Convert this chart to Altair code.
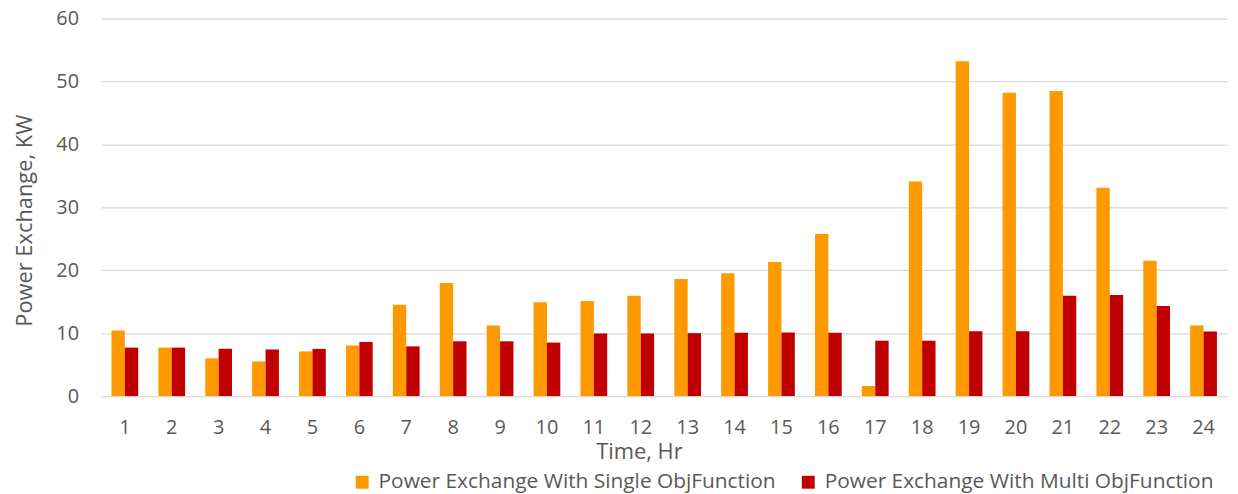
import altair as alt
import pandas as pd

hours = list(range(1, 25))
single = [10.4, 7.7, 6.0, 5.5, 7.1, 8.05, 14.5, 17.95, 11.2, 14.9, 15.1, 15.95,
          18.6, 19.5, 21.3, 25.75, 1.6, 34.1, 53.2, 48.2, 48.5, 33.1, 21.5, 11.2]
multi = [7.7, 7.7, 7.5, 7.4, 7.5, 8.6, 7.9, 8.7, 8.7, 8.5, 9.95, 9.95,
         10.0, 10.05, 10.1, 10.05, 8.8, 8.8, 10.3, 10.3, 15.95, 16.05, 14.3, 10.25]
series = ["Power Exchange With Single ObjFunction", "Power Exchange  With Multi ObjFunction"]
colors = ["#FF9900", "#C00000"]
y_ticks = [0, 10, 20, 30, 40, 50, 60]

rows = []
for h, s, m in zip(hours, single, multi):
    rows.append({"Hour": h, "Series": series[0], "Value": s})
    rows.append({"Hour": h, "Series": series[1], "Value": m})
df = pd.DataFrame(rows)

FONT = "Open Sans"
TXT = "#595959"

chart = alt.Chart(df).mark_bar().encode(
    x=alt.X("Hour:O", sort=hours,
            scale=alt.Scale(paddingInner=0.43, paddingOuter=0.215),
            axis=alt.Axis(title="Time, Hr", labelAngle=0, ticks=False, tickSize=0,
                          domain=False, grid=False, labelPadding=22,
                          labelFontSize=20, labelFont=FONT, labelColor=TXT,
                          titleFontSize=22, titleFont=FONT, titleColor=TXT,
                          titleFontWeight="normal", titleX=541, titleY=63,
                          titleBaseline="alphabetic", titleAlign="center")),
    xOffset=alt.XOffset("Series:N", sort=series, scale=alt.Scale(domain=series)),
    y=alt.Y("Value:Q", scale=alt.Scale(domain=[0, 60], nice=False),
            axis=alt.Axis(title="Power Exchange, KW", values=y_ticks, ticks=False, tickSize=0,
                          domain=False, grid=True, gridColor="#d9d9d9", gridWidth=1.3,
                          labelPadding=23, labelFontSize=20, labelFont=FONT, labelColor=TXT,
                          titleFontSize=22, titleFont=FONT, titleColor=TXT,
                          titleFontWeight="normal", titleAngle=-90, titleX=-70, titleY=203,
                          titleBaseline="alphabetic", titleAlign="center")),
    color=alt.Color("Series:N", sort=series,
                    scale=alt.Scale(domain=series, range=colors),
                    legend=alt.Legend(title=None, orient="none", legendX=252, legendY=456,
                                      direction="horizontal", symbolType="square",
                                      symbolSize=169, symbolStrokeWidth=0,
                                      labelFontSize=21, labelFont=FONT, labelColor=TXT,
                                      labelOffset=6, columnPadding=22, labelLimit=600)),
).properties(
    width=1133, height=380,
    padding={"left": 94, "top": 9, "right": 3, "bottom": 97},
    autosize=alt.AutoSizeParams(type="none"),
).configure_view(stroke=None)

chart.save("out.html", embed_options={"renderer": "svg", "actions": False})
